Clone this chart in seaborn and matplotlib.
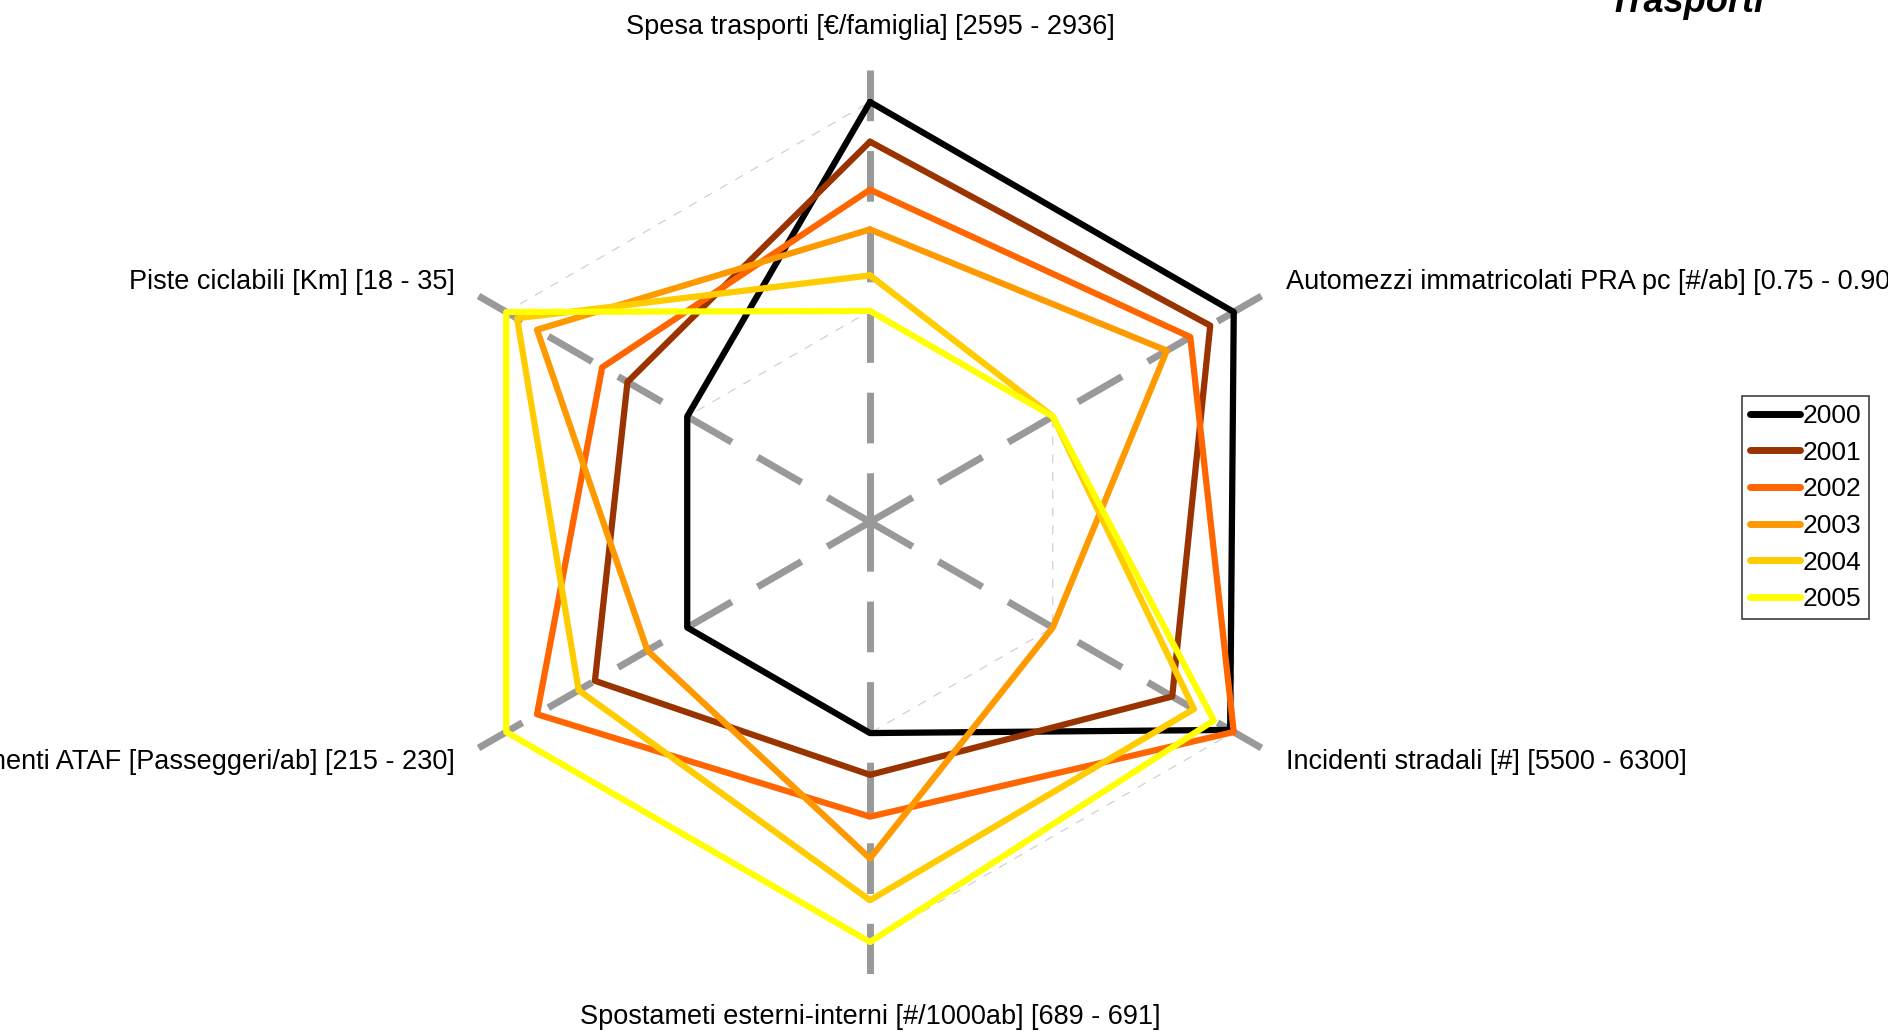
import numpy as np
import pandas as pd
import seaborn as sns
import matplotlib.pyplot as plt

# axis labels, clockwise from the top
axis_labels = [
    'Spesa trasporti [€/famiglia] [2595 - 2936]',
    'Automezzi immatricolati PRA pc [#/ab] [0.75 - 0.90]',
    'Incidenti stradali [#] [5500 - 6300]',
    'Spostameti esterni-interni [#/1000ab] [689 - 691]',
    'Spostamenti ATAF [Passeggeri/ab] [215 - 230]',
    'Piste ciclabili [Km] [18 - 35]',
]
years = ['2000', '2001', '2002', '2003', '2004', '2005']

# normalised scores (0 = min of range, 1 = max of range), same axis order
v2000 = [1.00, 1.00, 0.98, 0.00, 0.00, 0.00]
v2001 = [0.81, 0.87, 0.66, 0.20, 0.51, 0.33]
v2002 = [0.58, 0.76, 1.00, 0.40, 0.83, 0.47]
v2003 = [0.39, 0.63, 0.00, 0.60, 0.22, 0.83]
v2004 = [0.17, 0.00, 0.78, 0.80, 0.60, 0.94]
v2005 = [0.00, 0.00, 0.89, 1.00, 1.00, 1.00]
series = [v2000, v2001, v2002, v2003, v2004, v2005]
colors = ['#000000', '#993300', '#FF6600', '#FF9900', '#FFCC00', '#FFFF00']

sns.set_theme(style='white')
plt.rcParams['font.family'] = ['Liberation Sans', 'DejaVu Sans']
plt.rcParams['text.color'] = 'black'

r0 = 1.01        # radius of the "minimum" ring
r_spoke = 2.163  # length of the axis spokes
n = len(axis_labels)
ang = np.arange(n) * 2 * np.pi / n  # clockwise from top


def to_xy(vals):
    r = r0 + np.asarray(vals, dtype=float)
    x = r * np.sin(ang)
    y = r * np.cos(ang)
    return np.append(x, x[0]), np.append(y, y[0])


fig = plt.figure(figsize=(18.88, 10.34), dpi=100)
ax = fig.add_axes([418 / 1888, 60 / 1034, 904 / 1888, 904 / 1034])
ax.set_xlim(-r_spoke, r_spoke)
ax.set_ylim(-r_spoke, r_spoke)
ax.set_aspect('equal')
ax.axis('off')

# thin dashed rings at min and max
for level in [0.0, 1.0]:
    gx, gy = to_xy([level] * n)
    ax.plot(gx, gy, color='#cccccc', lw=0.8, ls=(0, (8, 8)), zorder=1)

# thick dashed spokes, drawn from the outside in
for a in ang:
    ax.plot([r_spoke * np.sin(a), 0], [r_spoke * np.cos(a), 0],
            color='#999999', lw=5, ls=(0, (7.3, 4.3)),
            solid_capstyle='butt', dash_capstyle='butt', zorder=2)

# data polygons
for year, vals, c in zip(years, series, colors):
    px, py = to_xy(vals)
    df = pd.DataFrame({'x': px, 'y': py})
    sns.lineplot(data=df, x='x', y='y', sort=False, estimator=None,
                 color=c, lw=4.5, label=year, ax=ax, zorder=3)

# axis labels
for a, lab in zip(ang, axis_labels):
    s, c = np.sin(a), np.cos(a)
    if abs(s) < 1e-6:
        r = 2.37
        ax.text(r * s, r * c, lab, ha='center', va='center', fontsize=19.5,
                color='black')
    else:
        r = 2.297
        ax.text(r * s, r * c, lab, ha='left' if s > 0 else 'right',
                va='center', fontsize=19.5, color='black')

handles, labels = ax.get_legend_handles_labels()
ax.get_legend().remove()
leg = fig.legend(handles, labels, loc='upper left',
                 bbox_to_anchor=(1742 / 1888, 1 - 396 / 1034),
                 fontsize=19, handlelength=1.9, handletextpad=0.08,
                 labelspacing=0.48, borderpad=0.3, borderaxespad=0,
                 fancybox=False, framealpha=1, edgecolor='#404040')
leg.get_frame().set_linewidth(1.2)
for line in leg.get_lines():
    line.set_linewidth(5)
    line.set_solid_capstyle('round')
for t in leg.get_texts():
    t.set_color('black')

fig.text(1686 / 1888, 1 - 12 / 1034, 'Trasporti', ha='center', va='baseline',
         fontsize=26, fontweight='bold', fontstyle='italic', color='black')

fig.savefig('out.png', dpi=100)
